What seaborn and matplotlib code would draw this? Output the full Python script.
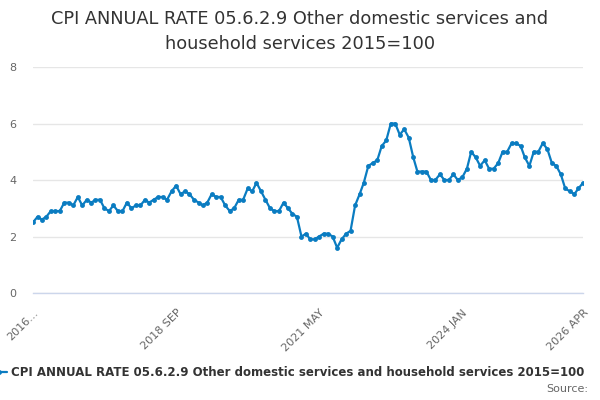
import pandas as pd
import numpy as np
import seaborn as sns
import matplotlib.pyplot as plt

# monthly annual rate, 2016 JAN .. 2026 APR
rate = [2.5, 2.7, 2.6, 2.7, 2.9, 2.9, 2.9, 3.2, 3.2, 3.1, 3.4, 3.1,
        3.3, 3.2, 3.3, 3.3, 3.0, 2.9, 3.1, 2.9, 2.9, 3.2, 3.0, 3.1,
        3.1, 3.3, 3.2, 3.3, 3.4, 3.4, 3.3, 3.6, 3.8, 3.5, 3.6, 3.5,
        3.3, 3.2, 3.1, 3.2, 3.5, 3.4, 3.4, 3.1, 2.9, 3.0, 3.3, 3.3,
        3.7, 3.6, 3.9, 3.6, 3.3, 3.0, 2.9, 2.9, 3.2, 3.0, 2.8, 2.7,
        2.0, 2.1, 1.9, 1.9, 2.0, 2.1, 2.1, 2.0, 1.6, 1.9, 2.1, 2.2,
        3.1, 3.5, 3.9, 4.5, 4.6, 4.7, 5.2, 5.4, 6.0, 6.0, 5.6, 5.8,
        5.5, 4.8, 4.3, 4.3, 4.3, 4.0, 4.0, 4.2, 4.0, 4.0, 4.2, 4.0,
        4.1, 4.4, 5.0, 4.8, 4.5, 4.7, 4.4, 4.4, 4.6, 5.0, 5.0, 5.3,
        5.3, 5.2, 4.8, 4.5, 5.0, 5.0, 5.3, 5.1, 4.6, 4.5, 4.2, 3.7,
        3.6, 3.5, 3.7, 3.9]
months = pd.date_range('2016-01-01', periods=len(rate), freq='MS')

label_dates = ['2016-01-01', '2018-09-01', '2021-05-01', '2024-01-01', '2026-04-01']
label_text = ['2016...', '2018 SEP', '2021 MAY', '2024 JAN', '2026 APR']
minor_dates = pd.date_range('2016-01-01', '2025-05-01', freq='8MS')

series = 'CPI ANNUAL RATE 05.6.2.9 Other domestic services and household services 2015=100'
title = 'CPI ANNUAL RATE 05.6.2.9 Other domestic services and\nhousehold services 2015=100'

df = pd.DataFrame({'Month': months, 'Rate': rate})

sns.set_style("white")
blue = '#0a7cc1'
fig = plt.figure(figsize=(6, 4), dpi=100)
ax = fig.add_axes([33/600, 1 - 293/400, 550/600, 226/400])

sns.lineplot(data=df, x='Month', y='Rate', ax=ax, color=blue, linewidth=1.6,
             marker='o', markersize=3.5, markeredgewidth=0, label=series,
             legend=False)

ax.set_xlim(months[0], months[-1])
ax.set_ylim(0, 8)
ax.set_yticks([0, 2, 4, 6, 8])
ax.grid(axis='y', color='#e6e6e6', linewidth=1)
ax.set_xlabel('')
ax.set_ylabel('')
for s in ['top', 'right', 'left']:
    ax.spines[s].set_visible(False)
ax.spines['bottom'].set_color('#ccd6eb')
ax.spines['bottom'].set_linewidth(1)

ax.set_xticks(pd.to_datetime(label_dates))
ax.set_xticklabels(label_text, rotation=45, ha='right', rotation_mode='anchor')
ax.set_xticks([d for d in minor_dates if d.strftime('%Y-%m-%d') not in label_dates], minor=True)
ax.tick_params(axis='x', which='both', length=7.5, width=1, color='#ccd6eb',
               labelsize=8, labelcolor='#666666', pad=3, direction='out')
ax.tick_params(axis='y', length=0, labelsize=8, labelcolor='#666666', pad=12)

fig.text(0.5, 0.975, title, ha='center', va='top', fontsize=12.8,
         color='#333333', linespacing=1.5)

h, l = ax.get_legend_handles_labels()
fig.legend(h, l, loc='center left', bbox_to_anchor=(-0.033, 0.068),
           frameon=False, handlelength=1.4, handletextpad=0.35,
           prop={'weight': 'bold', 'size': 8.5}, labelcolor='#333333')

fig.text(0.98, 0.027, 'Source:', ha='right', va='center', fontsize=8, color='#666666')

fig.savefig('out.png', dpi=100)
